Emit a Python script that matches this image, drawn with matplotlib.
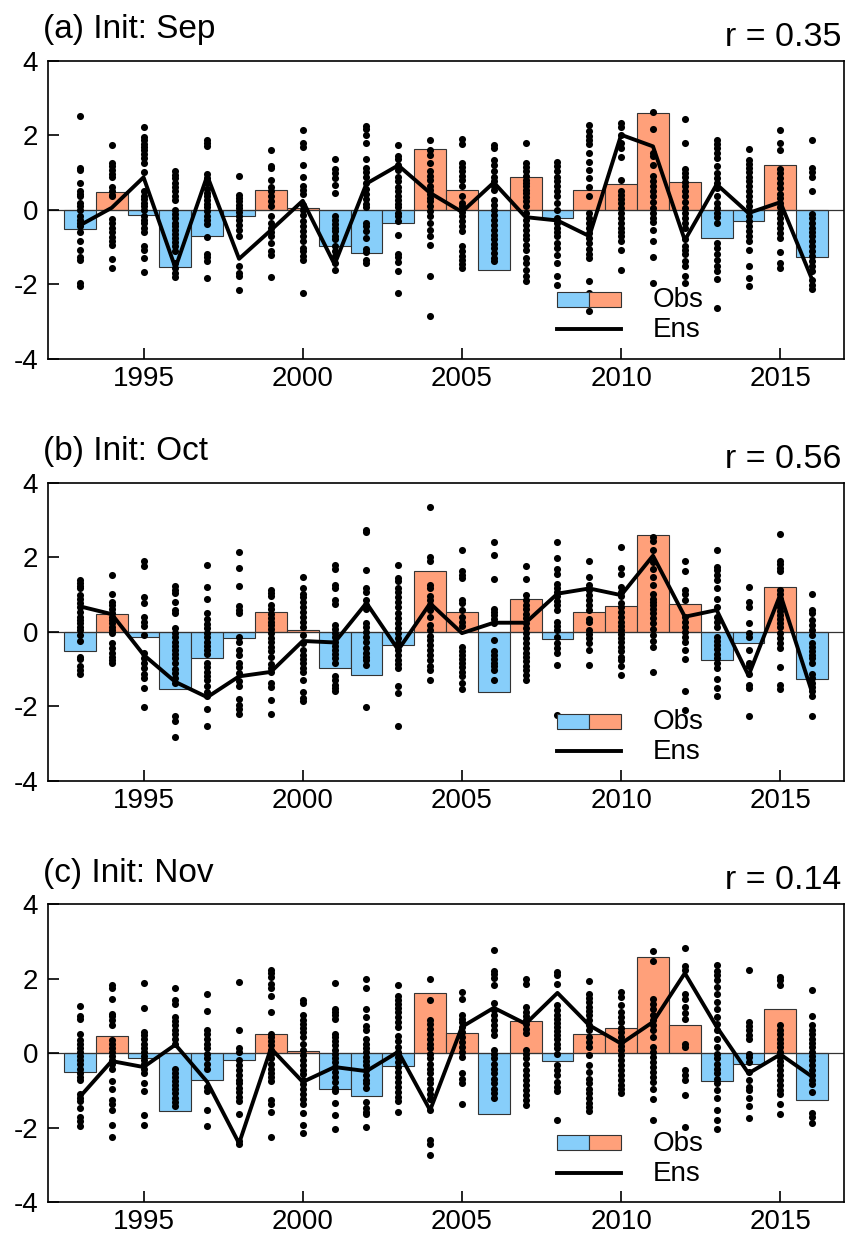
import matplotlib
matplotlib.use("Agg")
import matplotlib.pyplot as plt
from matplotlib.patches import Rectangle
from matplotlib.lines import Line2D
import numpy as np

plt.rcParams['font.family'] = ['Liberation Sans', 'DejaVu Sans']
plt.rcParams['axes.unicode_minus'] = False

years = list(range(1993, 2017))

obs = [-0.51, 0.47, -0.14, -1.54, -0.71, -0.17, 0.52, 0.05, -0.97, -1.16, -0.35, 1.62,
       0.54, -1.62, 0.875, -0.21, 0.52, 0.68, 2.59, 0.75, -0.75, -0.30, 1.19, -1.26]

ens_sep = [-0.42, 0.05, 0.87, -1.56, 0.91, -1.32, -0.55, 0.24, -1.47, 0.70, 1.19, 0.45,
           -0.06, 0.73, -0.20, -0.29, -0.71, 2.01, 1.70, -0.82, 0.68, -0.09, 0.20, -1.88]
ens_oct = [0.68, 0.47, -0.62, -1.35, -1.76, -1.20, -1.08, -0.25, -0.29, 0.77, -0.49, 0.76,
           -0.04, 0.24, 0.24, 1.02, 1.16, 0.98, 2.04, 0.40, 0.58, -1.18, 1.00, -1.64]
ens_nov = [-1.17, -0.21, -0.37, 0.23, -0.77, -2.42, 0.13, -0.77, -0.37, -0.48, 0.04, -1.53,
           0.71, 1.22, 0.79, 1.62, 0.75, 0.26, 0.84, 2.15, 0.71, -0.54, -0.03, -0.63]

members_sep = [
    [2.51, 1.12, 1.06, 0.71, 0.49, 0.43, 0.36, 0.18, 0.09, 0, -0.18, -0.27, -0.36, -0.45, -0.61, -0.85, -1.07, -1.27, -1.36, -1.98, -2.05],
    [1.74, 1.25, 1.16, 1.07, 0.96, 0.89, 0.60, 0.49, 0.40, 0.36, -0.25, -0.36, -0.49, -0.61, -0.73, -0.85, -0.94, -1.32, -1.56],
    [2.21, 1.95, 1.86, 1.77, 1.68, 1.59, 1.50, 1.38, 1.25, 1.0, 0.49, 0.38, 0.29, 0.18, 0.09, 0, -0.18, -0.27, -0.36, -0.49, -0.61, -0.98, -1.09, -1.29, -1.67],
    [1.03, 0.94, 0.85, 0.71, 0.61, 0.49, 0.36, 0.27, 0, -0.11, -0.22, -0.36, -0.45, -0.54, -0.64, -0.76, -0.88, -0.98, -1.12, -1.43, -1.56, -1.70, -1.80],
    [1.88, 1.79, 1.70, 0.96, 0.85, 0.71, 0.55, 0.45, 0.36, 0.25, 0.16, 0.07, -0.04, -0.16, -0.27, -0.38, -0.73, -1.18, -1.27, -1.38, -1.83],
    [0.91, 0.40, 0.31, 0.22, 0.13, 0.04, -0.07, -0.18, -0.29, -0.40, -0.54, -0.70, -1.50, -1.70, -1.79, -2.16],
    [1.61, 1.18, 1.12, 0.80, 0.61, 0.49, 0.36, 0.22, 0.09, -0.18, -0.36, -0.49, -0.61, -0.71, -0.89, -1.12, -1.21, -1.80],
    [2.14, 1.79, 1.68, 1.21, 0.87, 0.64, 0.54, 0.43, 0.13, 0, -0.13, -0.31, -0.45, -0.58, -0.71, -0.85, -1.03, -1.12, -1.23, -1.34, -2.25],
    [1.36, 1.09, 0.98, 0.85, 0.67, 0.45, -0.18, -0.27, -0.38, -0.49, -0.58, -0.70, -0.80, -0.98, -1.12, -1.25, -1.43, -1.63],
    [2.25, 2.16, 2.01, 1.80, 1.36, 1.12, 1.0, 0.89, 0.71, 0.55, 0.43, 0.29, 0.16, 0.07, -0.36, -0.45, -0.58, -0.76, -1.05, -1.14, -1.36, -1.43],
    [1.74, 1.45, 1.36, 1.21, 1.07, 0.89, 0.76, 0.61, 0.49, 0.36, 0.25, 0.16, 0.07, -0.09, -0.18, -0.31, -0.67, -1.18, -1.27, -1.41, -1.65, -2.25],
    [1.86, 1.61, 1.47, 1.25, 1.03, 0.91, 0.79, 0.64, 0.54, 0.43, 0.31, 0.22, 0.09, -0.04, -0.18, -0.36, -0.54, -0.71, -0.96, -1.79, -2.86],
    [1.89, 1.77, 1.25, 1.14, 1.03, 0.91, 0.80, 0.63, 0.36, 0.18, 0.09, -0.07, -0.18, -0.31, -0.45, -0.58, -0.98, -1.12, -1.25, -1.36, -1.47, -1.56],
    [1.74, 1.65, 1.34, 1.21, 1.03, 0.89, 0.76, 0.64, 0.54, 0.27, 0.13, 0, -0.13, -0.27, -0.40, -0.54, -0.67, -0.80, -0.91, -1.03, -1.16, -1.29, -1.38],
    [1.80, 1.25, 1.14, 1.03, 0.91, 0.80, 0.71, 0.63, 0.54, 0.45, 0.34, 0.22, 0.09, -0.09, -0.27, -0.40, -0.54, -0.67, -0.80, -0.94, -1.07, -1.29, -1.43, -1.61, -1.79, -1.92],
    [1.27, 1.16, 1.03, 0.89, 0.76, 0.63, 0.49, 0.36, 0.18, 0, -0.22, -0.36, -0.49, -0.61, -0.71, -0.89, -1.03, -1.21, -1.43, -1.79, -2.01],
    [2.28, 2.10, 1.98, 1.88, 1.77, 1.52, 1.29, 1.07, 0.85, 0.61, 0.36, -0.09, -0.22, -0.36, -0.49, -0.63, -0.76, -0.89, -1.05, -1.18, -1.29, -1.92, -2.23, -2.72],
    [2.34, 2.21, 2.01, 1.79, 1.65, 1.41, 0.80, 0.49, 0.40, 0.29, 0.18, 0.04, -0.09, -0.22, -0.36, -0.49, -0.61, -0.71, -0.85, -1.09, -1.61],
    [2.63, 2.16, 1.52, 1.43, 1.21, 0.91, 0.76, 0.63, 0.49, 0.36, 0.20, 0.04, -0.09, -0.22, -0.34, -0.54, -0.85, -1.27, -1.96],
    [2.43, 1.80, 1.09, 0.98, 0.88, 0.73, 0.63, 0.49, 0.36, 0.20, 0.04, -0.09, -0.22, -0.36, -0.49, -0.80, -0.98, -1.09, -1.18, -1.38, -1.52, -1.77, -1.96],
    [1.88, 1.77, 1.65, 1.52, 1.38, 1.18, 0.98, 0.85, 0.71, 0.58, 0.36, 0.18, 0.04, -0.09, -0.20, -0.36, -0.89, -1.03, -1.18, -1.36, -1.50, -1.65, -1.86, -2.63],
    [1.63, 1.34, 1.23, 1.12, 1.0, 0.89, 0.76, 0.63, 0.49, 0.36, 0.22, 0.09, -0.04, -0.18, -0.31, -0.45, -0.58, -0.71, -0.85, -1.07, -1.50, -1.83, -2.05],
    [2.13, 1.80, 1.61, 1.09, 0.98, 0.85, 0.71, 0.58, 0.43, 0.31, 0.18, 0.07, -0.09, -0.22, -0.36, -0.49, -0.63, -0.76, -1.14, -1.43, -1.56],
    [1.86, 1.12, 1.0, 0.89, 0.49, -0.11, -0.22, -0.36, -0.49, -0.61, -0.71, -0.85, -0.98, -1.12, -1.25, -1.38, -1.52, -1.65, -1.88, -2.01, -2.13],
]

members_oct = [
    [1.40, 1.31, 1.22, 1.16, 0.98, 0.89, 0.76, 0.65, 0.53, 0.40, 0.31, 0.22, 0.13, 0.04, -0.09, -0.24, -0.67, -0.74, -0.93, -1.02, -1.13],
    [1.51, 1.0, 0.80, 0.71, 0.60, 0.49, 0.40, 0.31, 0.22, 0.13, 0.04, -0.04, -0.31, -0.44, -0.56, -0.67, -0.76, -0.84],
    [1.89, 1.75, 0.92, 0.77, 0.40, 0.27, 0.15, -0.09, -0.58, -0.71, -0.84, -0.98, -1.13, -1.24, -1.51, -2.02],
    [1.22, 1.13, 1.04, 0.80, 0.58, 0.49, 0.09, -0.03, -0.13, -0.27, -0.38, -0.49, -0.60, -0.71, -0.84, -1.00, -1.11, -1.24, -1.38, -2.27, -2.40, -2.82],
    [1.78, 1.20, 0.89, 0.51, 0.33, 0.20, 0.09, -0.04, -0.15, -0.27, -0.38, -0.49, -0.60, -0.84, -0.95, -1.07, -1.18, -1.31, -1.45, -1.63, -1.73, -2.07, -2.53],
    [2.15, 1.72, 1.22, 0.68, 0.58, 0.49, -0.13, -0.27, -0.49, -0.62, -0.83, -0.95, -1.11, -1.33, -1.45, -1.82, -1.96, -2.07, -2.20],
    [1.13, 1.04, 0.95, 0.71, 0.60, 0.47, 0.36, 0.27, 0.18, 0.06, -0.04, -0.18, -0.29, -0.42, -0.53, -0.67, -0.86, -0.98, -1.09, -1.38, -1.48, -1.84, -2.20],
    [1.48, 1.18, 1.0, 0.92, 0.80, 0.67, 0.53, 0.40, 0.27, 0.13, -0.09, -0.31, -0.49, -0.62, -0.74, -0.84, -0.98, -1.09, -1.29, -1.63, -1.78, -1.87],
    [1.80, 1.69, 1.24, 1.16, 0.84, 0.74, 0.18, 0.06, -0.04, -0.15, -0.27, -0.38, -0.49, -0.60, -0.71, -0.84, -1.20, -1.31, -1.42, -1.51, -1.60],
    [2.73, 2.67, 1.66, 1.16, 1.07, 0.84, 0.71, 0.62, 0.22, 0.13, 0, -0.13, -0.29, -0.44, -0.56, -0.67, -0.77, -0.89, -2.02],
    [1.80, 1.45, 1.36, 1.16, 1.07, 0.93, 0.80, 0.65, 0.51, 0.36, 0.22, 0.09, -0.04, -0.18, -0.31, -0.49, -0.62, -0.76, -0.86, -0.98, -1.45, -1.66, -2.52],
    [3.35, 2.0, 1.89, 1.24, 1.16, 0.95, 0.84, 0.71, 0.58, 0.40, 0.18, 0.04, -0.12, -0.22, -0.36, -0.49, -0.62, -0.77, -0.92, -1.04, -1.31],
    [2.20, 1.64, 1.53, 1.45, 0.84, 0.76, 0.58, 0.40, 0.27, 0.15, -0.40, -0.51, -0.62, -0.74, -0.84, -0.95, -1.07, -1.20, -1.38, -1.54],
    [2.40, 2.07, 1.42, 0.62, 0.53, 0.44, 0.33, 0.22, -0.22, -0.53, -0.62, -0.74, -0.84, -0.93, -1.04, -1.29],
    [1.75, 1.42, 0.98, 0.84, 0.71, 0.60, 0.47, 0.36, 0.22, 0.09, -0.04, -0.18, -0.31, -0.44, -0.56, -0.67, -0.80, -0.93, -1.04, -1.16, -1.29],
    [2.40, 1.98, 1.69, 1.54, 1.29, 1.18, 1.07, 0.95, 0.83, 0.71, 0.58, 0.27, 0.15, 0.04, -0.13, -0.31, -0.44, -0.58, -0.89, -2.25],
    [1.91, 1.48, 1.24, 1.11, 0.98, 0.84, 0.71, 0.58, 0.33, 0.27, 0.04, -0.06, -0.18, -0.31, -0.49, -0.89],
    [2.28, 1.72, 1.54, 1.20, 1.07, 0.95, 0.77, 0.65, 0.53, 0.40, 0.27, 0.15, 0.04, -0.06, -0.18, -0.29, -0.40, -0.53, -0.67, -0.77, -0.92, -1.16],
    [2.55, 2.43, 2.20, 1.87, 1.69, 1.48, 1.24, 1.02, 0.89, 0.80, 0.71, 0.62, 0.49, 0.36, 0.22, 0.06, -0.09, -0.24, -0.40, -1.07],
    [1.91, 1.64, 1.13, 1.0, 0.84, 0.40, 0.27, 0.13, 0, -0.13, -0.27, -0.49, -0.74, -1.60, -2.09],
    [2.20, 1.73, 1.66, 1.51, 1.38, 1.16, 0.89, 0.67, 0.40, 0.27, 0.13, -0.13, -0.24, -0.36, -0.47, -0.60, -0.71, -0.84, -0.98, -1.27, -1.51, -1.72],
    [1.20, 0.80, 0.67, 0.24, -0.04, -0.13, -0.49, -0.84, -0.92, -1.13, -1.42, -1.51, -2.27],
    [2.62, 1.91, 1.82, 1.72, 1.64, 1.11, 1.0, 0.89, 0.77, 0.67, 0.56, 0.44, 0.33, 0.22, 0.12, -0.03, -0.18, -0.31, -0.44, -0.95, -1.42, -1.54],
    [1.00, 0.58, 0.49, 0.31, 0.18, 0.04, -0.09, -0.31, -0.40, -0.53, -0.62, -0.71, -0.84, -1.13, -1.24, -1.38, -1.48, -1.60, -1.72, -2.27],
]

members_nov = [
    [1.26, 0.99, 0.93, 0.53, 0.35, 0.24, 0.15, 0.04, -0.08, -0.19, -0.29, -0.41, -0.53, -0.63, -0.72, -1.10, -1.19, -1.28, -1.48, -1.72, -1.81, -1.96],
    [1.82, 1.76, 1.46, 1.06, 0.99, 0.90, 0.75, 0.35, 0.26, 0.15, 0.04, -0.08, -0.19, -0.28, -0.41, -0.74, -0.95, -1.26, -1.35, -1.51, -1.93, -2.24],
    [1.88, 1.22, 0.57, 0.48, 0.37, 0.26, 0.15, 0.04, -0.08, -0.19, -0.29, -0.41, -0.54, -0.79, -1.01, -1.66, -1.93],
    [1.76, 1.44, 1.33, 0.97, 0.87, 0.75, 0.63, 0.53, 0.39, 0.26, -0.41, -0.53, -0.63, -0.74, -0.86, -0.97, -1.08, -1.19, -1.30, -1.42],
    [1.58, 1.13, 0.62, 0.51, 0.39, 0.26, 0.13, -0.01, -0.14, -0.28, -0.41, -0.90, -1.01, -1.51, -1.96],
    [1.91, 0.62, 0.15, 0.04, -0.19, -0.32, -0.46, -0.59, -0.71, -0.81, -0.92, -1.04, -1.17, -1.28, -1.63, -2.35, -2.44],
    [2.24, 2.15, 2.06, 1.87, 1.76, 1.55, 1.10, 0.53, 0.44, 0.33, 0.21, 0.10, -0.01, -0.14, -0.28, -0.41, -0.53, -0.63, -0.74, -1.26, -1.37, -1.57, -2.24],
    [1.44, 1.35, 1.02, 0.90, 0.79, 0.69, 0.57, 0.44, 0.26, 0.08, -0.05, -0.19, -0.32, -0.46, -0.56, -0.72, -0.83, -0.97, -1.10, -1.24, -1.35, -1.60, -1.93, -2.15],
    [1.88, 1.19, 1.11, 1.02, 0.93, 0.53, 0.44, 0.33, 0.21, 0.10, -0.01, -0.12, -0.23, -0.37, -0.50, -0.63, -0.77, -0.92, -1.01, -1.33, -1.66, -2.04],
    [2.0, 1.76, 1.20, 0.96, 0.72, 0.62, 0.39, 0.26, 0.15, 0.04, -0.10, -0.21, -0.32, -0.46, -0.59, -0.72, -0.81, -0.92, -1.30, -1.46, -1.57, -1.63, -1.97],
    [1.82, 1.55, 1.44, 1.33, 1.22, 1.11, 0.97, 0.84, 0.71, 0.46, 0.33, 0.17, 0.04, -0.10, -0.23, -0.37, -0.50, -0.63, -0.77, -0.90, -1.04, -1.17, -1.28, -1.57],
    [2.0, 1.44, 0.88, 0.79, 0.66, 0.53, 0.39, 0.26, 0.13, -0.01, -0.14, -0.28, -0.41, -0.54, -0.68, -0.81, -0.95, -1.10, -1.24, -1.53, -2.33, -2.44, -2.73],
    [1.64, 1.46, 1.02, 0.93, 0.84, 0.71, 0.57, 0.44, 0.30, 0.17, 0.04, -0.10, -0.53, -0.68, -0.79, -1.35],
    [2.76, 2.21, 2.12, 2.03, 1.82, 1.35, 1.15, 1.02, 0.88, 0.75, 0.62, 0.48, 0.10, -0.01, -0.14, -0.28, -0.41, -0.54, -0.68, -0.81, -0.95, -1.08, -1.19],
    [2.0, 1.87, 1.24, 1.11, 0.99, 0.88, 0.78, 0.66, 0.54, 0.10, -0.01, -0.14, -0.28, -0.46, -0.59, -0.72, -0.86, -0.99, -1.12, -1.26, -1.39],
    [2.18, 2.09, 1.87, 1.29, 1.17, 1.04, 0.93, 0.81, 0.71, 0.60, 0.48, 0.37, 0.24, 0.13, -0.01, -0.32, -0.46, -0.59, -0.77, -0.90, -1.01, -1.78],
    [1.94, 1.60, 1.49, 1.38, 1.24, 1.13, 1.02, 0.88, 0.75, 0.62, 0.44, 0.30, 0.17, -0.05, -0.32, -0.50, -0.68, -0.81, -0.95, -1.06, -1.19, -1.33, -1.44, -1.54],
    [1.64, 1.51, 1.29, 1.11, 0.97, 0.84, 0.69, 0.57, 0.44, 0.30, 0.19, 0.08, -0.05, -0.19, -0.32, -0.46, -0.59, -0.72, -0.86, -0.97, -1.08],
    [2.74, 2.47, 1.46, 1.33, 1.20, 1.02, 0.88, 0.75, 0.62, 0.44, 0.17, 0.04, -0.10, -0.23, -0.37, -0.50, -0.63, -0.77, -0.95, -1.24, -1.78],
    [2.83, 2.33, 2.24, 1.60, 1.46, 1.24, 1.08, 0.93, 0.26, 0.17, -0.46, -0.59, -0.72, -1.12, -1.99],
    [2.36, 2.22, 2.09, 1.96, 1.78, 1.60, 1.38, 1.20, 0.97, 0.79, 0.62, 0.39, 0.17, -0.01, -0.14, -0.28, -0.41, -0.54, -0.68, -0.81, -0.99, -1.21, -1.52, -1.78, -2.04],
    [2.24, 0.84, 0.72, 0.62, 0.48, 0.37, -0.01, -0.10, -0.23, -0.50, -0.72, -0.90, -0.99, -1.19, -1.42, -1.75],
    [2.06, 1.96, 1.82, 0.75, 0.62, 0.51, 0.39, 0.28, 0.17, 0.04, -0.10, -0.21, -0.32, -0.46, -0.59, -0.72, -0.86, -0.99, -1.10, -1.35, -1.63],
    [1.71, 0.99, 0.75, 0.63, 0.53, 0.39, 0.28, 0.17, 0.04, -0.08, -0.19, -0.32, -0.46, -0.59, -0.71, -0.83, -1.04, -1.60, -1.71, -1.87],
]

titles = ["(a) Init: Sep", "(b) Init: Oct", "(c) Init: Nov"]
r_labels = ["r = 0.35", "r = 0.56", "r = 0.14"]
ens_list = [ens_sep, ens_oct, ens_nov]
members_list = [members_sep, members_oct, members_nov]
xticks = [1995, 2000, 2005, 2010, 2015]
yticks = [-4, -2, 0, 2, 4]

BLUE = "#87CEFA"
SALMON = "#FFA07A"

fig = plt.figure(figsize=(8.47, 12.36), dpi=100)
bottoms = [0.7098, 0.3684, 0.0273]

for k in range(3):
    ax = fig.add_axes([0.0567, bottoms[k], 0.9398, 0.2411])
    colors = [SALMON if v >= 0 else BLUE for v in obs]
    ax.bar(years, obs, width=1.0, color=colors, edgecolor="#333333",
           linewidth=0.8, zorder=1)
    ax.axhline(0, color="#333333", linewidth=0.9, zorder=1.5)
    xs, ys = [], []
    for yr, mem in zip(years, members_list[k]):
        xs.extend([yr] * len(mem))
        ys.extend(mem)
    ax.scatter(xs, ys, s=26, color="black", linewidths=0, zorder=2)
    ax.plot(years, ens_list[k], color="black", linewidth=2.8, zorder=3)

    ax.set_xlim(1992, 2017)
    ax.set_ylim(-4, 4)
    ax.set_xticks(xticks)
    ax.set_xticklabels([str(t) for t in xticks])
    ax.set_yticks(yticks)
    ax.set_yticklabels([str(t) for t in yticks])
    ax.tick_params(direction="in", length=8, width=1.2, labelsize=20,
                   top=False, right=False)
    ax.tick_params(axis="y", pad=7)
    ax.tick_params(axis="x", pad=5)
    for sp in ax.spines.values():
        sp.set_linewidth(1.2)

    ax.text(-0.006, 1.076, titles[k], transform=ax.transAxes, fontsize=24,
            ha="left", va="baseline")
    ax.text(0.997, 1.05, r_labels[k], transform=ax.transAxes, fontsize=24.5,
            ha="right", va="baseline")

    # legend (manual)
    tr = ax.transAxes
    ax.add_patch(Rectangle((0.640, 0.1745), 0.040, 0.0503, transform=tr,
                           facecolor=BLUE, edgecolor="#333333", linewidth=0.8,
                           zorder=4, clip_on=False))
    ax.add_patch(Rectangle((0.680, 0.1745), 0.040, 0.0503, transform=tr,
                           facecolor=SALMON, edgecolor="#333333", linewidth=0.8,
                           zorder=4, clip_on=False))
    ax.add_line(Line2D([0.640, 0.720], [0.0997, 0.0997], transform=tr,
                       color="black", linewidth=2.8, zorder=4))
    ax.text(0.760, 0.197, "Obs", transform=tr, fontsize=20, ha="left",
            va="center", zorder=4)
    ax.text(0.760, 0.096, "Ens", transform=tr, fontsize=20, ha="left",
            va="center", zorder=4)

fig.savefig("out.png", dpi=100)
